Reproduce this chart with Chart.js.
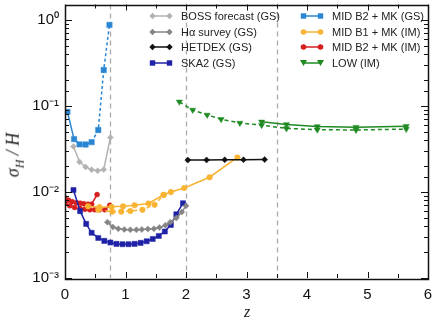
<!DOCTYPE html>
<html>
<head>
<meta charset="utf-8">
<script src="https://cdn.jsdelivr.net/npm/chart.js@4/dist/chart.umd.min.js"></script>
<style>
body { margin: 0; background: #fff; }
#wrap { position: relative; width: 436px; height: 319px; font-family: "Liberation Sans", Arial, sans-serif; }
#chart { position: absolute; left: 0; top: 0; }
.leg { position: absolute; top: 8px; font-size: 11px; color: #222; }
.leg div { height: 15.8px; display: flex; align-items: center; white-space: nowrap; }
.leg svg { margin-right: 8px; }
.title { position: absolute; font-family: "Liberation Serif", "DejaVu Serif", serif; font-style: italic; color: #222; white-space: nowrap; }
#ytitle { left: 15px; top: 155px; font-size: 18px; transform: translate(-50%, -50%) rotate(-90deg); }
#xtitle { left: 247px; top: 312px; font-size: 16px; transform: translate(-50%, -50%); }
</style>
</head>
<body>
<div id="wrap">
  <canvas id="chart" width="436" height="319"></canvas>
  <div class="leg" id="legLeft" style="left:149px"></div>
  <div class="leg" id="legRight" style="left:300px"></div>
  <div class="title" id="ytitle">σ<sub style="font-size:12px">H</sub> / H</div>
  <div class="title" id="xtitle">z</div>
</div>
<script>
// Datos (z, sigma_H/H)
const bossZ = [0.14, 0.24, 0.34, 0.44, 0.54, 0.64, 0.75];
const bossSigma = [0.0337, 0.0223, 0.0195, 0.0181, 0.0176, 0.0182, 0.0428];

const halphaZ = [0.70, 0.79, 0.88, 0.98, 1.08, 1.18, 1.27, 1.37, 1.47, 1.56, 1.66, 1.74, 1.84, 1.93, 2.0];
const halphaSigma = [0.00445, 0.0039, 0.00373, 0.00366, 0.00363, 0.00363, 0.00366, 0.0037, 0.00373, 0.00386, 0.00411, 0.00445, 0.00498, 0.00583, 0.00688];

const hetdexZ = [2.03, 2.34, 2.64, 2.95, 3.30];
const hetdexSigma = [0.0234, 0.0235, 0.0236, 0.0236, 0.0237];

const ska2Z = [0.14, 0.25, 0.35, 0.44, 0.55, 0.65, 0.75, 0.85, 0.95, 1.05, 1.15, 1.25, 1.35, 1.45, 1.55, 1.65, 1.75, 1.84, 1.95];
const ska2Sigma = [0.0105, 0.00598, 0.00425, 0.00335, 0.00292, 0.0027, 0.00258, 0.00249, 0.00247, 0.00247, 0.00249, 0.00256, 0.00267, 0.00284, 0.00308, 0.00347, 0.00414, 0.00549, 0.00739];

const midGsZ = [0.04, 0.15, 0.24, 0.34, 0.44, 0.55, 0.64, 0.735];
const midGsSigma = [0.085, 0.041, 0.0356, 0.0355, 0.0378, 0.0523, 0.26, 0.87];
const midGsDashFrom = 4; // a partir de este punto la curva es discontinua

const midB1Z = [0.38, 0.57, 0.77, 0.96, 1.15, 1.38, 1.63, 1.75, 1.97, 2.39, 2.85];
const midB1Sigma = [0.0068, 0.00665, 0.0067, 0.0068, 0.007, 0.00733, 0.00925, 0.00995, 0.0111, 0.0148, 0.0251];
const midB1DashZ = [0.55, 0.78, 0.93, 1.08, 1.28, 1.48, 1.63];
const midB1DashSigma = [0.0062, 0.0059, 0.0059, 0.006, 0.0062, 0.0071, 0.0092];

const midB2Z = [0, 0.06, 0.12, 0.19, 0.25, 0.31, 0.38, 0.44, 0.53];
const midB2Sigma = [0.0085, 0.008, 0.0077, 0.0075, 0.0074, 0.0073, 0.0072, 0.0072, 0.0093];
const midB2DashZ = [0, 0.08, 0.16, 0.25, 0.33, 0.41, 0.49, 0.57, 0.66, 0.74];
const midB2DashSigma = [0.0075, 0.0069, 0.0066, 0.0064, 0.0063, 0.0062, 0.0062, 0.0062, 0.0062, 0.007];

const lowZ = [3.25, 3.66, 4.17, 4.81, 5.64];
const lowSigma = [0.0651, 0.0607, 0.0575, 0.0565, 0.058];
const lowDashZ = [1.89, 2.11, 2.35, 2.58, 2.89, 3.25, 3.66, 4.17, 4.81, 5.64];
const lowDashSigma = [0.111, 0.0893, 0.0783, 0.0697, 0.0631, 0.0596, 0.0546, 0.0528, 0.0523, 0.0536];

// Líneas verticales discontinuas
const dividers = [0.74, 2.0, 3.5];

const xTicks = [0, 1, 2, 3, 4, 5, 6];
const yTickPowers = [-3, -2, -1, 0];

const toPoints = (zs, vs) => zs.map((z, i) => ({ x: z, y: vs[i] }));

function series(label, zs, vs, color, style, radius, dashed) {
    return {
        label: label,
        data: toPoints(zs, vs),
        borderColor: color,
        backgroundColor: color,
        borderWidth: 1.5,
        borderDash: dashed ? [4, 3] : [],
        pointStyle: style,
        pointRadius: radius,
        pointRotation: style === 'triangle' ? 180 : 0,
        pointBorderWidth: 0.5,
        pointBorderColor: color,
        tension: 0
    };
}

const colors = {
    boss: '#b3b3b3',
    halpha: '#858585',
    hetdex: '#111111',
    ska2: '#1f22a6',
    midGs: '#2a86d2',
    midB1: '#f8b432',
    midB2: '#d61f1f',
    low: '#1f8a22'
};

const datasets = [
    series('BOSS forecast (GS)', bossZ, bossSigma, colors.boss, 'rectRot', 3, false),
    series('Hα survey (GS)', halphaZ, halphaSigma, colors.halpha, 'rectRot', 3, false),
    series('HETDEX (GS)', hetdexZ, hetdexSigma, colors.hetdex, 'rectRot', 3, false),
    series('MID B1 + MK (IM)', midB1Z, midB1Sigma, colors.midB1, 'circle', 2.8, false),
    series('MID B1 + MK (IM) dashed', midB1DashZ, midB1DashSigma, colors.midB1, 'circle', 2.8, true),
    series('SKA2 (GS)', ska2Z, ska2Sigma, colors.ska2, 'rect', 3.6, false),
    series('MID B2 + MK (IM)', midB2Z, midB2Sigma, colors.midB2, 'circle', 2.5, false),
    series('MID B2 + MK (IM) dashed', midB2DashZ, midB2DashSigma, colors.midB2, 'circle', 2.5, true),
    series('MID B2 + MK (GS)', midGsZ, midGsSigma, colors.midGs, 'rect', 3.8, false),
    series('LOW (IM)', lowZ, lowSigma, colors.low, 'triangle', 3.5, false),
    series('LOW (IM) dashed', lowDashZ, lowDashSigma, colors.low, 'triangle', 3.5, true)
];
// tramo discontinuo de MID B2 + MK (GS)
datasets[8].segment = {
    borderDash: ctx => ctx.p0DataIndex >= midGsDashFrom ? [3, 2.5] : []
};

// Leyenda en HTML, dos columnas
const legendLeft = [
    ['BOSS forecast (GS)', colors.boss, 'diamond'],
    ['Hα survey (GS)', colors.halpha, 'diamond'],
    ['HETDEX (GS)', colors.hetdex, 'diamond'],
    ['SKA2 (GS)', colors.ska2, 'square']
];
const legendRight = [
    ['MID B2 + MK (GS)', colors.midGs, 'square'],
    ['MID B1 + MK (IM)', colors.midB1, 'circle'],
    ['MID B2 + MK (IM)', colors.midB2, 'circle'],
    ['LOW (IM)', colors.low, 'triangle']
];

function marker(shape, cx, color) {
    if (shape === 'square') return `<rect x="${cx - 2.7}" y="2.3" width="5.4" height="5.4" fill="${color}"/>`;
    if (shape === 'diamond') return `<polygon points="${cx},1.8 ${cx + 3.2},5 ${cx},8.2 ${cx - 3.2},5" fill="${color}"/>`;
    if (shape === 'circle') return `<circle cx="${cx}" cy="5" r="2.8" fill="${color}"/>`;
    return `<polygon points="${cx - 3.5},2 ${cx + 3.5},2 ${cx},8" fill="${color}"/>`;
}

function buildLegend(id, items) {
    document.getElementById(id).innerHTML = items.map(([name, color, shape]) =>
        `<div><svg width="24" height="10"><line x1="3" y1="5" x2="21" y2="5" stroke="${color}" stroke-width="1.5"/>` +
        marker(shape, 3.5, color) + marker(shape, 20.5, color) + `</svg><span>${name}</span></div>`
    ).join('');
}
buildLegend('legLeft', legendLeft);
buildLegend('legRight', legendRight);

const supers = { '-': '⁻', '0': '⁰', '1': '¹', '2': '²', '3': '³' };
const powLabel = p => '10' + String(p).split('').map(c => supers[c]).join('');

const isPow10 = v => Math.abs(Math.log10(v) - Math.round(Math.log10(v))) < 1e-6;

// Marco, marcas interiores y líneas verticales
const framePlugin = {
    id: 'framePlugin',
    beforeDatasetsDraw(chart) {
        const { ctx, chartArea: a, scales: { x } } = chart;
        ctx.save();
        ctx.strokeStyle = '#aaaaaa';
        ctx.lineWidth = 1.3;
        ctx.setLineDash([5, 4]);
        dividers.forEach(z => {
            const px = Math.round(x.getPixelForValue(z)) + 0.5;
            ctx.beginPath();
            ctx.moveTo(px, a.top);
            ctx.lineTo(px, a.bottom);
            ctx.stroke();
        });
        ctx.restore();
    },
    afterDraw(chart) {
        const { ctx, chartArea: a, scales: { x, y } } = chart;
        ctx.save();
        ctx.strokeStyle = '#111';
        ctx.lineWidth = 1;
        const line = (x1, y1, x2, y2) => {
            ctx.beginPath();
            ctx.moveTo(x1, y1);
            ctx.lineTo(x2, y2);
            ctx.stroke();
        };
        y.ticks.forEach(t => {
            if (t.value > 1.0001 || t.value < 0.001) return;
            const py = Math.round(y.getPixelForValue(t.value)) + 0.5;
            const len = isPow10(t.value) ? 7 : 4;
            line(a.left, py, a.left + len, py);
            line(a.right, py, a.right - len, py);
        });
        x.ticks.forEach(t => {
            const px = Math.round(x.getPixelForValue(t.value)) + 0.5;
            const len = Number.isInteger(t.value) ? 6 : 4;
            line(px, a.bottom, px, a.bottom - len);
            line(px, a.top, px, a.top + len);
        });
        ctx.lineWidth = 1.5;
        ctx.strokeRect(Math.round(a.left) + 0.5, Math.round(a.top) + 0.5, Math.round(a.right - a.left), Math.round(a.bottom - a.top));
        ctx.restore();
    }
};

const ctx = document.getElementById('chart').getContext('2d');
const chart = new Chart(ctx, {
    type: 'line',
    data: { datasets: datasets },
    options: {
        responsive: false,
        animation: false,
        layout: { padding: { top: 1, right: 8, left: 0, bottom: 0 } },
        plugins: {
            legend: { display: false },
            tooltip: { enabled: false }
        },
        scales: {
            x: {
                type: 'linear',
                min: 0,
                max: 6,
                grid: { display: false, drawTicks: false },
                border: { display: false },
                ticks: {
                    stepSize: 0.5,
                    autoSkip: false,
                    maxRotation: 0,
                    padding: 8,
                    color: '#111',
                    font: { size: 15, family: '"Liberation Sans", Arial, sans-serif' },
                    callback: v => xTicks.includes(v) ? String(v) : ''
                },
                afterFit: s => { s.height = 41; s.paddingLeft = 0; s.paddingRight = 0; }
            },
            y: {
                type: 'logarithmic',
                min: 0.001,
                max: 1.5,
                grid: { display: false, drawTicks: false },
                border: { display: false },
                ticks: {
                    autoSkip: false,
                    padding: 6,
                    color: '#111',
                    font: { size: 15, family: '"Liberation Sans", Arial, sans-serif' },
                    callback: v => {
                        const p = Math.round(Math.log10(v));
                        return isPow10(v) && yTickPowers.includes(p) ? powLabel(p) : '';
                    }
                },
                afterFit: s => { s.width = 65; s.paddingTop = 0; s.paddingBottom = 0; }
            }
        }
    },
    plugins: [framePlugin]
});
</script>
</body>
</html>
